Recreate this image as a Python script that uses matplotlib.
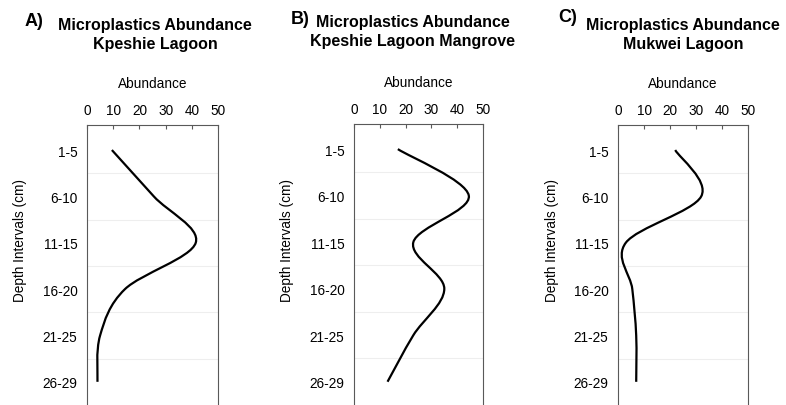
import numpy as np
import matplotlib
matplotlib.use("Agg")
import matplotlib.pyplot as plt
from matplotlib.path import Path
from matplotlib.patches import PathPatch

plt.rcParams['font.family'] = ['Liberation Sans', 'DejaVu Sans']

depths = ["1-5", "6-10", "11-15", "16-20", "21-25", "26-29"]
xticks = [0, 10, 20, 30, 40, 50]

kpeshie = [9.5, 25.5, 41.5, 14.5, 5.0, 4.0]
mangrove = [17.0, 44.5, 23.0, 35.0, 23.0, 13.0]
mukwei = [22.0, 32.0, 3.0, 5.5, 7.0, 7.0]

panels = [
    ("A)", "Microplastics Abundance\nKpeshie Lagoon", kpeshie),
    ("B)", "Microplastics Abundance\nKpeshie Lagoon Mangrove", mangrove),
    ("C)", "Microplastics Abundance\nMukwei Lagoon", mukwei),
]


def smooth_path(xs, ys):
    # excel-like smoothed line (catmull-rom as bezier)
    pts = np.column_stack([xs, ys]).astype(float)
    n = len(pts)
    verts = [pts[0]]
    codes = [Path.MOVETO]
    for i in range(n - 1):
        p0 = pts[i - 1] if i > 0 else pts[i]
        p1 = pts[i]
        p2 = pts[i + 1]
        p3 = pts[i + 2] if i + 2 < n else pts[i + 1]
        verts += [p1 + (p2 - p0) / 6, p2 - (p3 - p1) / 6, p2]
        codes += [Path.CURVE4] * 3
    return Path(verts, codes)


W, H = 786, 406
fig = plt.figure(figsize=(W / 100, H / 100), dpi=100)

# pixel layout: left, right, top of each axes
boxes = [(87, 218, 126), (354, 483, 125), (618, 748, 126)]
title_pos = [(155, 35), (413, 32), (683, 35)]
letter_pos = [(34, 22), (300, 19), (568, 17)]
ylab_x = [20, 287, 552]

for k, (letter, title, vals) in enumerate(panels):
    l, r, t = boxes[k]
    ax = fig.add_axes([l / W, 0, (r - l) / W, 1 - t / H])
    ypos = np.arange(len(depths))
    patch = PathPatch(smooth_path(vals, ypos), fill=False, edgecolor='black', lw=1.6)
    ax.add_patch(patch)
    ax.set_xlim(0, 50)
    ax.set_ylim(5.5, -0.54)
    ax.set_xticks(xticks)
    ax.set_yticks(ypos)
    ax.set_yticklabels(depths)
    for g in np.arange(0.5, 5, 1.0):
        ax.axhline(g, color='#eeeeee', lw=0.8, zorder=0)
    ax.xaxis.tick_top()
    ax.xaxis.set_label_position('top')
    ax.tick_params(axis='x', direction='in', length=3, pad=6, labelsize=9.8,
                   color='#595959', width=0.8)
    ax.tick_params(axis='y', length=0, pad=7, labelsize=9.8)
    for s in ['top', 'left', 'right']:
        ax.spines[s].set_color('#595959')
        ax.spines[s].set_linewidth(0.8)
    ax.spines['bottom'].set_visible(False)
    ax.set_xlabel("Abundance", fontsize=9.8, labelpad=11)
    fig.text(ylab_x[k] / W, 1 - 240 / H, "Depth Intervals (cm)", rotation=90,
             ha='center', va='center', fontsize=9.8)
    fig.text(title_pos[k][0] / W, 1 - title_pos[k][1] / H, title,
             ha='center', va='center', fontsize=11.5, fontweight='bold',
             linespacing=1.3)
    fig.text(letter_pos[k][0] / W, 1 - letter_pos[k][1] / H, letter,
             ha='center', va='center', fontsize=13, fontweight='bold')

fig.savefig("out.png", dpi=100)
